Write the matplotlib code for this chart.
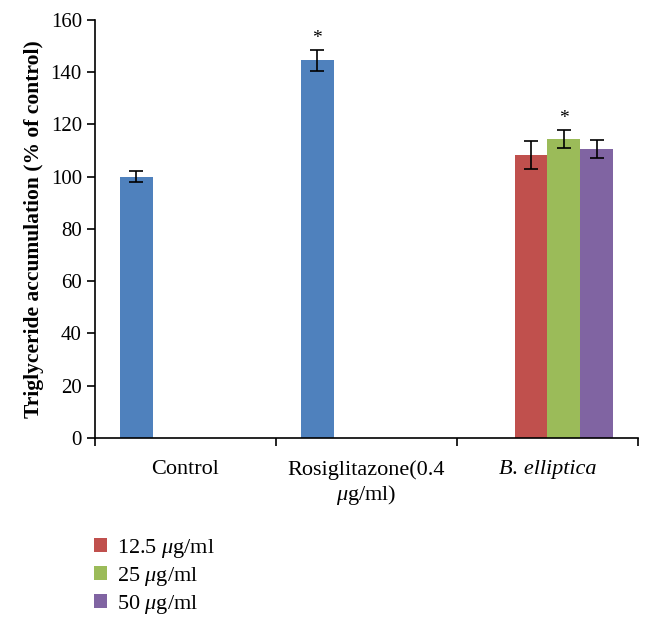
import matplotlib.pyplot as plt
import numpy as np

plt.rcParams['font.family'] = ['Liberation Serif', 'DejaVu Serif']
plt.rcParams['mathtext.fontset'] = 'custom'
plt.rcParams['mathtext.rm'] = 'Liberation Serif'
plt.rcParams['mathtext.it'] = 'Liberation Serif:italic'

# data
categories = ['Control', 'Rosiglitazone(0.4\n$\\mu$g/ml)', 'B. elliptica']
series_names = ['', '12.5 $\\mu$g/ml', '25 $\\mu$g/ml', '50 $\\mu$g/ml']
series_colors = ['#4F81BD', '#C0504D', '#9BBB59', '#8064A2']
# one list per series, None where the series has no bar in that category
blue_vals = [100.0, 144.5, None]
blue_err = [2.0, 4.0, None]
red_vals = [None, None, 108.3]
red_err = [None, None, 5.3]
green_vals = [None, None, 114.4]
green_err = [None, None, 3.3]
purple_vals = [None, None, 110.6]
purple_err = [None, None, 3.6]
# which bars carry a significance star: (series index, category index)
stars = [(0, 1), (2, 2)]

values = [blue_vals, red_vals, green_vals, purple_vals]
errors = [blue_err, red_err, green_err, purple_err]

fig = plt.figure(figsize=(6.53, 6.26), dpi=100)
ax = fig.add_axes([0.1455, 0.3003, 0.8315, 0.668])

width = 0.182
x = np.arange(len(categories))
handles = []
for i, (vals, errs) in enumerate(zip(values, errors)):
    offset = (i - 1.5) * width
    xs = [x[j] + offset for j in range(len(vals)) if vals[j] is not None]
    vs = [v for v in vals if v is not None]
    es = [e for e in errs if e is not None]
    b = ax.bar(xs, vs, width, color=series_colors[i], yerr=es, capsize=5,
               error_kw=dict(ecolor='black', elinewidth=1.2, capthick=1.2))
    handles.append(b)

for si, ci in stars:
    xs = x[ci] + (si - 1.5) * width
    ax.text(xs, values[si][ci] + errors[si][ci] + 4.5, '*', ha='center',
            va='center', fontsize=14)

ax.set_xlim(-0.5, 2.5)
ax.set_ylim(0, 160)
ax.set_yticks(range(0, 161, 20))
ax.tick_params(axis='y', labelsize=15, length=6, width=1.2)
ax.set_xticks(x)
ax.set_xticklabels(categories, fontsize=16)
ax.get_xticklabels()[2].set_fontstyle('italic')
ax.tick_params(axis='x', which='major', length=0, pad=16)
ax.set_xticks([-0.5, 0.5, 1.5, 2.5], minor=True)
ax.tick_params(axis='x', which='minor', length=6, width=1.2, direction='out')
ax.spines['top'].set_visible(False)
ax.spines['right'].set_visible(False)
ax.spines['left'].set_linewidth(1.2)
ax.spines['bottom'].set_linewidth(1.2)
ax.set_ylabel('Triglyceride accumulation (% of control)', fontsize=15.5,
              fontweight='bold', labelpad=5)

fig.legend(handles[1:], series_names[1:], loc='upper left',
           bbox_to_anchor=(0.113, 0.174), frameon=False, fontsize=16,
           handlelength=0.6, handleheight=0.6, handletextpad=0.45,
           labelspacing=0.22)

fig.savefig('out.png', dpi=100)
